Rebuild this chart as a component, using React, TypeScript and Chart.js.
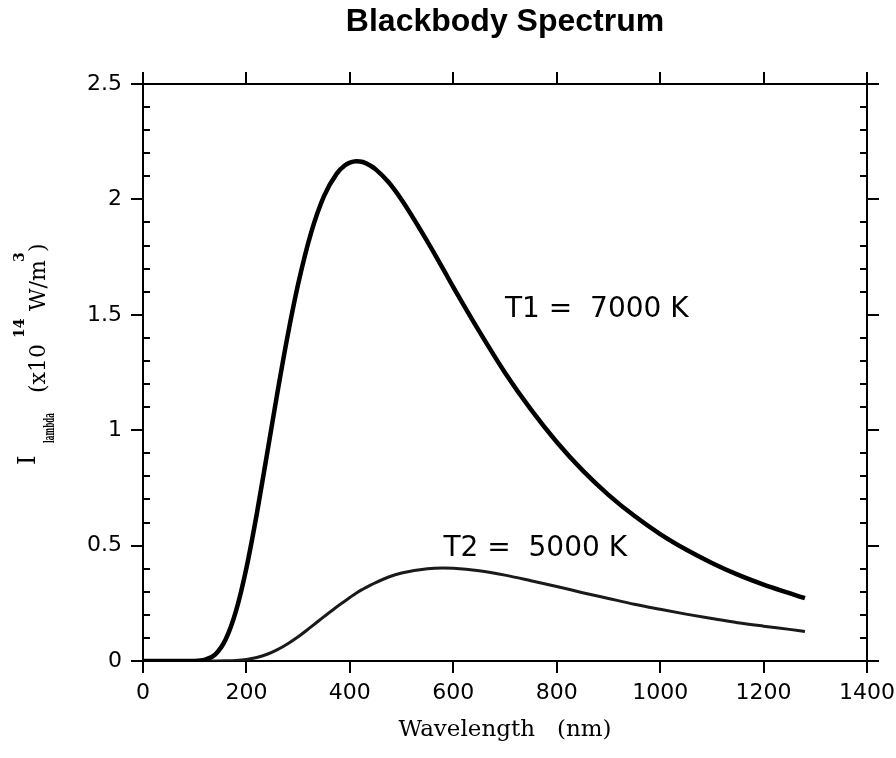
import React, { useEffect, useRef } from 'react';
import { Chart, registerables } from 'chart.js';

Chart.register(...registerables);

// ---- data ----
const WAVELENGTHS = [0, 50, 100, 120, 140, 160, 180, 200, 220, 240, 260, 280, 300, 325, 350, 375, 390, 400, 412, 425, 440, 450, 475, 500, 550, 580, 600, 650, 700, 750, 800, 850, 900, 950, 1000, 1050, 1100, 1150, 1200, 1250, 1280];
const T1_VALUES = [0, 0, 0.0004, 0.0055, 0.029, 0.094, 0.218, 0.403, 0.637, 0.899, 1.164, 1.413, 1.633, 1.855, 2.014, 2.113, 2.147, 2.159, 2.165, 2.162, 2.146, 2.13, 2.074, 1.998, 1.817, 1.7, 1.62, 1.429, 1.249, 1.09, 0.949, 0.826, 0.72, 0.629, 0.55, 0.483, 0.425, 0.374, 0.331, 0.294, 0.272];
const T2_VALUES = [0, 0, 0, 0, 0, 0.0006, 0.0023, 0.0066, 0.0152, 0.0292, 0.0493, 0.075, 0.105, 0.148, 0.192, 0.235, 0.259, 0.275, 0.294, 0.311, 0.329, 0.34, 0.364, 0.381, 0.4, 0.403, 0.402, 0.391, 0.372, 0.348, 0.323, 0.296, 0.271, 0.246, 0.224, 0.203, 0.184, 0.166, 0.151, 0.137, 0.128];

const X_TICK_VALUES = [0, 200, 400, 600, 800, 1000, 1200, 1400];
const X_TICK_LABELS = ['0', '200', '400', '600', '800', '1000', '1200', '1400'];
const Y_TICK_VALUES = [0, 0.5, 1, 1.5, 2, 2.5];
const Y_TICK_LABELS = ['0', '0.5', '1', '1.5', '2', '2.5'];
const Y_MINOR_TICKS = [0.1, 0.2, 0.3, 0.4, 0.6, 0.7, 0.8, 0.9, 1.1, 1.2, 1.3, 1.4, 1.6, 1.7, 1.8, 1.9, 2.1, 2.2, 2.3, 2.4];

const TITLE = 'Blackbody Spectrum';
const X_TITLE = 'Wavelength   (nm)';
const CURVE_LABELS = [
  { text: 'T1 =  7000 K', x: 700, y: 1.52 },
  { text: 'T2 =  5000 K', x: 581, y: 0.487 },
];

const tickLabel = (values: number[], labels: string[]) => (v: any) => {
  const i = values.findIndex((t) => Math.abs(t - Number(v)) < 1e-6);
  return i >= 0 ? labels[i] : '';
};

const minorTicksPlugin = {
  id: 'minorTicks',
  afterDraw(chart: any) {
    const { ctx, chartArea } = chart;
    const y = chart.scales.y;
    ctx.save();
    ctx.strokeStyle = '#000';
    ctx.lineWidth = 2;
    ctx.beginPath();
    for (const v of Y_MINOR_TICKS) {
      const py = Math.round(y.getPixelForValue(v));
      ctx.moveTo(chartArea.left, py);
      ctx.lineTo(chartArea.left + 7, py);
      ctx.moveTo(chartArea.right, py);
      ctx.lineTo(chartArea.right - 7, py);
    }
    ctx.stroke();
    ctx.restore();
  },
};

const textPlugin = {
  id: 'extraText',
  afterDraw(chart: any) {
    const { ctx } = chart;
    const xs = chart.scales.x;
    const ys = chart.scales.y;
    ctx.save();
    ctx.fillStyle = '#000';
    ctx.font = '28px "DejaVu Sans"';
    ctx.textAlign = 'left';
    ctx.textBaseline = 'middle';
    for (const l of CURVE_LABELS) {
      ctx.fillText(l.text, xs.getPixelForValue(l.x), ys.getPixelForValue(l.y));
    }
    ctx.restore();

    // rotated y-axis title with sub/superscripts
    ctx.save();
    ctx.translate(0, 467);
    ctx.rotate(-Math.PI / 2);
    ctx.fillStyle = '#000';
    ctx.textAlign = 'left';
    ctx.textBaseline = 'alphabetic';
    ctx.font = '24px "DejaVu Serif"';
    ctx.fillText('I', 2, 35);
    ctx.save();
    ctx.font = 'bold 15px "DejaVu Serif"';
    const lw = ctx.measureText('lambda').width;
    ctx.translate(24, 54);
    ctx.scale(30 / lw, 1);
    ctx.fillText('lambda', 0, 0);
    ctx.restore();
    ctx.font = '22px "DejaVu Serif"';
    ctx.fillText('(x10', 74, 45);
    ctx.font = 'bold 14px "DejaVu Serif"';
    ctx.fillText('14', 129, 24);
    ctx.font = '22px "DejaVu Serif"';
    ctx.fillText('W/m', 156, 45);
    ctx.font = 'bold 14px "DejaVu Serif"';
    ctx.fillText('3', 205, 24);
    ctx.font = '22px "DejaVu Serif"';
    ctx.fillText(')', 215, 45);
    ctx.restore();
  },
};

const gridOpts = {
  drawOnChartArea: false,
  drawTicks: true,
  tickLength: 12,
  color: '#000',
  lineWidth: 2,
};
const borderOpts = { display: true, color: '#000', width: 2 };
const tickFont = { family: 'DejaVu Sans', size: 22 };

const noPad = (s: any) => {
  s.paddingLeft = 0;
  s.paddingRight = 0;
  s.paddingTop = 0;
  s.paddingBottom = 0;
};

export default function App() {
  const ref = useRef<HTMLCanvasElement | null>(null);

  useEffect(() => {
    if (!ref.current) return;
    const chart = new Chart(ref.current, {
      type: 'line',
      data: {
        datasets: [
          {
            label: 'T1 = 7000 K',
            data: WAVELENGTHS.map((w, i) => ({ x: w, y: T1_VALUES[i] })),
            borderColor: '#000',
            borderWidth: 4.5,
            pointRadius: 0,
            cubicInterpolationMode: 'monotone',
            fill: false,
          },
          {
            label: 'T2 = 5000 K',
            data: WAVELENGTHS.map((w, i) => ({ x: w, y: T2_VALUES[i] })),
            borderColor: '#1a1a1a',
            borderWidth: 3,
            pointRadius: 0,
            cubicInterpolationMode: 'monotone',
            fill: false,
          },
        ],
      },
      options: {
        responsive: false,
        animation: false,
        layout: { padding: { left: 0, right: 17, top: 0, bottom: 0 } },
        plugins: {
          legend: { display: false },
          tooltip: { enabled: false },
          title: {
            display: true,
            text: TITLE,
            fullSize: false,
            color: '#000',
            font: { family: 'Liberation Sans', size: 32, weight: 'bold' },
            padding: { top: 3, bottom: 30.6 },
          },
        },
        scales: {
          x: {
            type: 'linear',
            position: 'bottom',
            min: 0,
            max: 1400,
            ticks: {
              stepSize: 200,
              autoSkip: false,
              maxRotation: 0,
              padding: 7,
              color: '#000',
              font: tickFont,
              callback: tickLabel(X_TICK_VALUES, X_TICK_LABELS),
            },
            grid: gridOpts,
            border: borderOpts,
            title: {
              display: true,
              text: X_TITLE,
              color: '#000',
              font: { family: 'DejaVu Serif', size: 23 },
              padding: { top: 0, bottom: 14 },
            },
            afterFit: (s: any) => {
              s.height = 97;
              noPad(s);
            },
          },
          x2: {
            type: 'linear',
            position: 'top',
            min: 0,
            max: 1400,
            ticks: { display: false, stepSize: 200 },
            grid: gridOpts,
            border: borderOpts,
            afterFit: (s: any) => {
              s.height = 12;
              noPad(s);
            },
          },
          y: {
            type: 'linear',
            position: 'left',
            min: 0,
            max: 2.5,
            ticks: {
              stepSize: 0.5,
              autoSkip: false,
              padding: 9,
              color: '#000',
              font: tickFont,
              callback: tickLabel(Y_TICK_VALUES, Y_TICK_LABELS),
            },
            grid: gridOpts,
            border: borderOpts,
            afterFit: (s: any) => {
              s.width = 143;
              noPad(s);
            },
          },
          y2: {
            type: 'linear',
            position: 'right',
            min: 0,
            max: 2.5,
            ticks: { display: false, stepSize: 0.5 },
            grid: gridOpts,
            border: borderOpts,
            afterFit: (s: any) => {
              s.width = 12;
              noPad(s);
            },
          },
        },
      } as any,
      plugins: [minorTicksPlugin, textPlugin],
    });
    return () => chart.destroy();
  }, []);

  return (
    <div style={{ position: 'absolute', left: 0, top: 0, width: 896, height: 758, background: '#fff' }}>
      <canvas ref={ref} width={896} height={758} style={{ display: 'block' }} />
    </div>
  );
}
